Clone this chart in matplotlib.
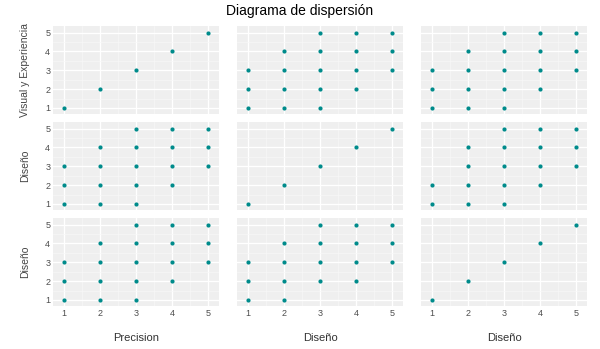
import matplotlib
matplotlib.use("Agg")
import matplotlib.pyplot as plt
from matplotlib.ticker import MultipleLocator

plt.rcParams['font.family'] = ['Liberation Sans', 'DejaVu Sans']

# panel labels
col_labels = ["Precision", "Diseño", "Diseño"]
row_labels = ["Visual y Experiencia", "Diseño", "Diseño"]
ticks = [1, 2, 3, 4, 5]

# points (row, col)
diag_x = [1, 2, 3, 4, 5]
diag_y = [1, 2, 3, 4, 5]

full_x = [1, 1, 1, 2, 2, 2, 2, 3, 3, 3, 3, 3, 4, 4, 4, 4, 5, 5, 5]
full_y = [1, 2, 3, 1, 2, 3, 4, 1, 2, 3, 4, 5, 2, 3, 4, 5, 3, 4, 5]

p12_x = [1, 1, 2, 2, 2, 2, 3, 3, 3, 3, 3, 4, 4, 4, 4, 5, 5, 5]
p12_y = [1, 2, 1, 2, 3, 4, 1, 2, 3, 4, 5, 2, 3, 4, 5, 3, 4, 5]

p21_x = [1, 1, 1, 2, 2, 2, 2, 3, 3, 3, 3, 4, 4, 4, 4, 5, 5, 5]
p21_y = [1, 2, 3, 1, 2, 3, 4, 2, 3, 4, 5, 2, 3, 4, 5, 3, 4, 5]

panels = [
    [(diag_x, diag_y), (full_x, full_y), (full_x, full_y)],
    [(full_x, full_y), (diag_x, diag_y), (p12_x, p12_y)],
    [(full_x, full_y), (p21_x, p21_y), (diag_x, diag_y)],
]

fig = plt.figure(figsize=(6, 3.49), dpi=100)
W, H = 600, 349
lefts = [53, 237, 421]
tops = [26, 122, 218]
pw, ph = 166, 88

for r in range(3):
    for c in range(3):
        ax = fig.add_axes([lefts[c] / W, 1 - (tops[r] + ph) / H, pw / W, ph / H])
        ax.set_facecolor("#EFEFEF")
        for s in ax.spines.values():
            s.set_visible(False)
        ax.set_xlim(0.7, 5.3)
        ax.set_ylim(0.68, 5.35)
        ax.set_xticks(ticks)
        ax.set_yticks(ticks)
        ax.xaxis.set_minor_locator(MultipleLocator(0.5))
        ax.yaxis.set_minor_locator(MultipleLocator(0.5))
        ax.grid(True, which="major", color="white", lw=0.9)
        ax.grid(True, which="minor", color="#F8F8F8", lw=0.45)
        ax.set_axisbelow(True)
        ax.tick_params(which="both", length=0, labelsize=6.5, labelcolor="#4D4D4D", pad=2)
        x, y = panels[r][c]
        ax.scatter(x, y, s=9, color="#008B8B", zorder=3, linewidths=0)
        if c != 0:
            ax.set_yticklabels([])
        else:
            ax.set_ylabel(row_labels[r], fontsize=7.5, color="#444444", labelpad=11)
        if r != 2:
            ax.set_xticklabels([])
        else:
            ax.set_xlabel(col_labels[c], fontsize=8, color="#333333", labelpad=11)

fig.text(0.5, 1 - 11 / H, "Diagrama de dispersión", ha="center", va="center", fontsize=10)

fig.savefig("out.png", dpi=100)
